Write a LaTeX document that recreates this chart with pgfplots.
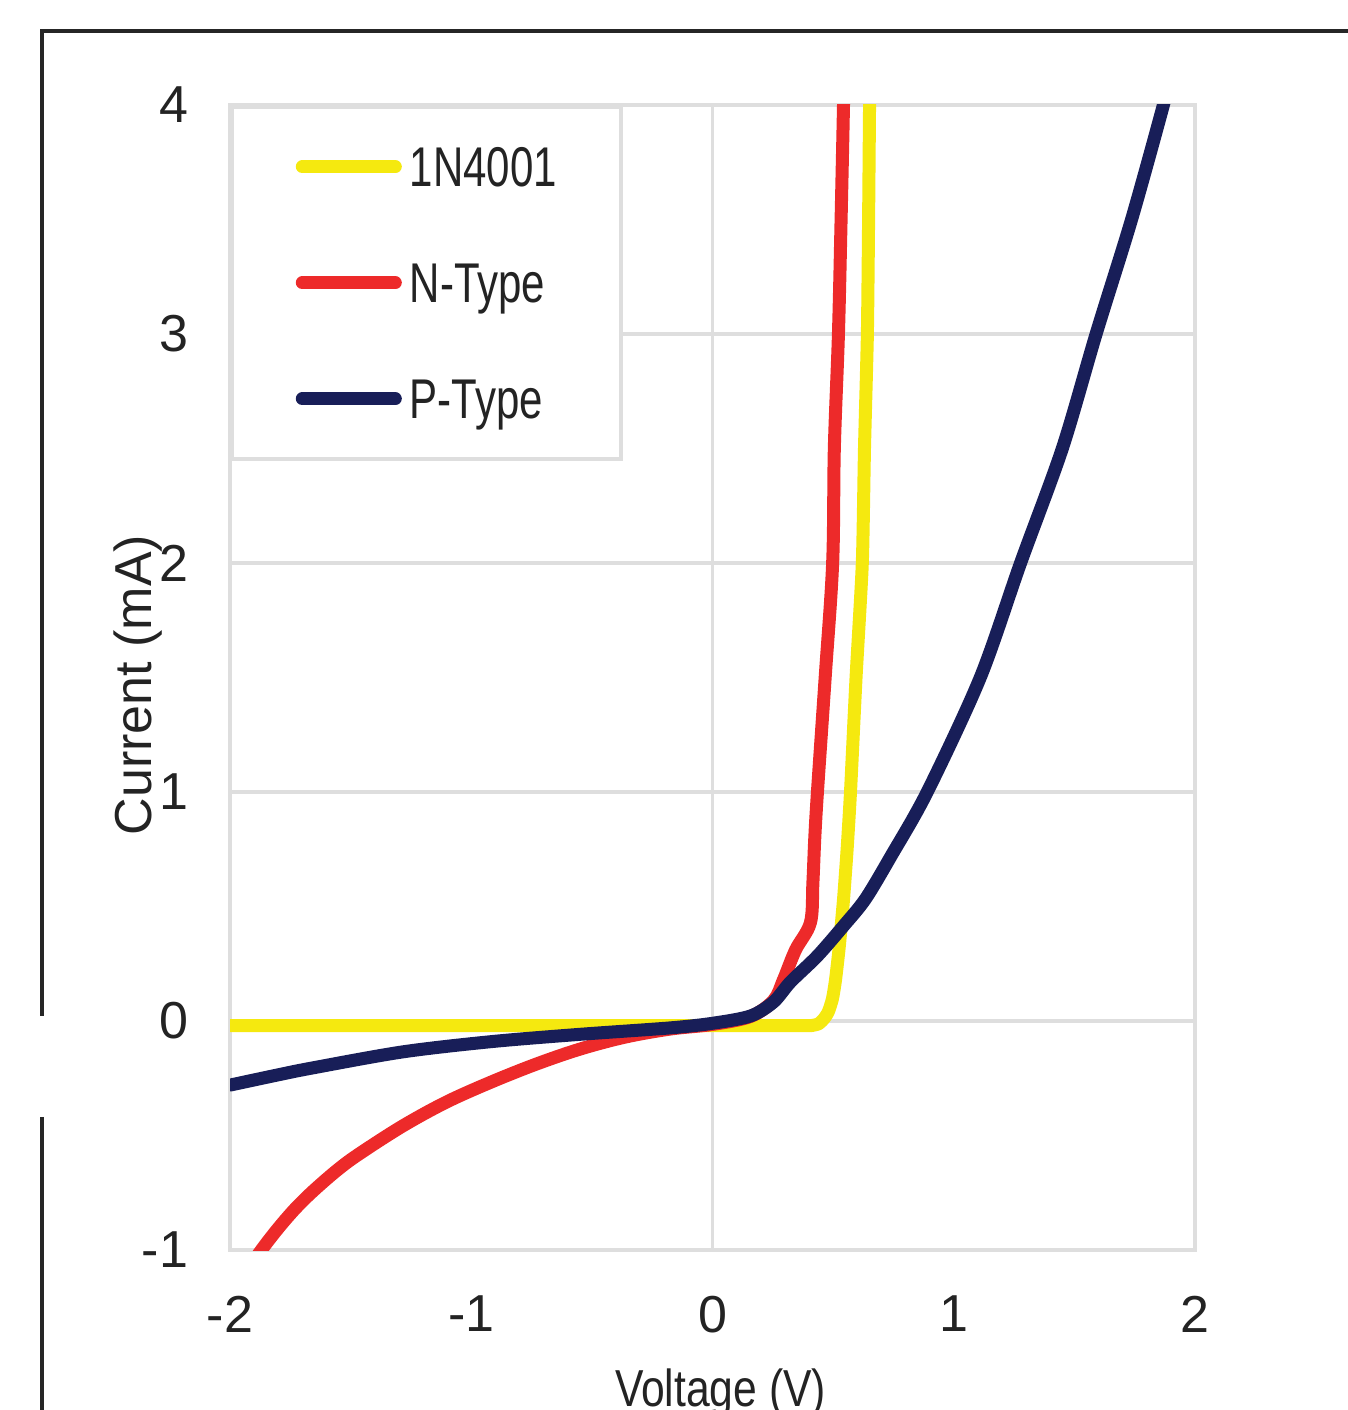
\documentclass[border=0pt]{standalone}
\usepackage{fontspec}
\setmainfont{Liberation Sans}
\newfontfamily\narrowfont{Liberation Sans}[FakeStretch=0.82]
\newfontfamily\legfont{Liberation Sans}[FakeStretch=0.75]
\usepackage{pgfplots}
\pgfplotsset{compat=1.18}
\definecolor{cyel}{RGB}{245,233,15}
\definecolor{cred}{RGB}{237,42,42}
\definecolor{cnavy}{RGB}{24,30,88}
\definecolor{gridc}{RGB}{222,222,222}
\definecolor{txt}{RGB}{35,35,35}
\begin{document}
\begin{tikzpicture}
\useasboundingbox (-57.5pt,-40pt) rectangle (279.25pt,312.5pt);
\begin{axis}[
  at={(0pt,0pt)}, anchor=south west,
  scale only axis, width=241.25pt, height=286.25pt,
  xmin=-2, xmax=2, ymin=-1, ymax=4,
  xtick={-2,-1,0,1,2}, xticklabels={-2,-1,0,1,2},
  ytick={-1,0,1,2,3,4}, yticklabels={-1,0,1,2,3,4},
  extra x ticks={0}, extra x tick labels={},
  extra x tick style={xmajorgrids=true},
  major tick length=0pt,
  xmajorgrids=false, ymajorgrids=true,
  grid style={gridc, line width=0.9pt},
  axis line style={gridc, line width=0.9pt},
  tick label style={font=\fontsize{13}{15}\selectfont, text=txt, inner sep=0pt},
  xticklabel style={anchor=north, yshift=-11.25pt},
  yticklabel style={anchor=east, xshift=-10.25pt},
  xlabel={Voltage (V)}, ylabel={Current (mA)},
  xlabel style={at={(axis description cs:0.5,0)}, anchor=north, inner sep=0pt, yshift=-29.5pt, xshift=2pt, font=\narrowfont\fontsize{13}{15}\selectfont, text=txt},
  ylabel style={at={(axis description cs:-0.0953,0.4934)}, anchor=center, inner sep=0pt, font=\fontsize{13}{15}\selectfont, text=txt},
  legend cell align=left,
  legend style={at={(0,1)}, anchor=north west, draw=gridc, line width=0.9pt, fill=white,
    inner xsep=16pt, inner ysep=10pt, row sep=19pt, column sep=2pt,
    nodes={inner sep=0pt, text height=10pt, text depth=0pt, font=\legfont\fontsize{14}{16}\selectfont, text=txt},
    column 2/.style={nodes={text width=40pt}}},
  legend image code/.code={\draw[#1, line cap=round] (0pt,0pt) -- (23.25pt,0pt);},
  every axis plot/.append style={line width=3.25pt, line join=round, line cap=round},
]
\addplot[cyel, smooth, tension=0.35] coordinates {
 (-2,-0.02) (-1,-0.02) (0,-0.02) (0.2,-0.02) (0.35,-0.02) (0.41,-0.02) (0.44,-0.012)
 (0.462,0.01) (0.48,0.04) (0.497,0.096) (0.51,0.18) (0.525,0.32) (0.543,0.53)
 (0.558,0.75) (0.572,1.0) (0.595,1.5) (0.621,2.0) (0.630,2.5) (0.642,3.0) (0.647,3.5) (0.651,4.0) (0.653,4.2)
};
\addlegendentry{1N4001}
\addplot[cred, smooth, tension=0.55] coordinates {
 (-2,-1.21) (-1.935,-1.10) (-1.87,-1.0) (-1.80,-0.905) (-1.73,-0.82) (-1.658,-0.745)
 (-1.56,-0.655) (-1.471,-0.585) (-1.285,-0.459) (-1.103,-0.354) (-0.916,-0.266) (-0.730,-0.188)
 (-0.547,-0.122) (-0.361,-0.070) (-0.174,-0.035) (0,-0.015)
 (0.158,0.02) (0.253,0.09) (0.294,0.18) (0.344,0.31) (0.406,0.43) (0.416,0.6) (0.424,0.8)
 (0.435,1.0) (0.467,1.5) (0.498,2.0) (0.505,2.5) (0.522,3.0) (0.533,3.5) (0.543,4.0) (0.546,4.2)
};
\addlegendentry{N-Type}
\addplot[cnavy, smooth, tension=0.5] coordinates {
 (-2,-0.28) (-1.8,-0.235) (-1.658,-0.205) (-1.285,-0.135) (-0.916,-0.09)
 (-0.547,-0.058) (-0.174,-0.03) (0,-0.01) (0.158,0.022) (0.253,0.083) (0.323,0.17)
 (0.435,0.284) (0.543,0.415) (0.634,0.533) (0.74,0.72) (0.89,1.0) (1.11,1.5)
 (1.277,2.0) (1.45,2.5) (1.59,3.0) (1.737,3.5) (1.869,4.0) (1.89,4.1)
};
\addlegendentry{P-Type}
\end{axis}
\draw[line width=1.1pt, black!85] (-47pt,58.5pt) -- (-47pt,304.75pt) -- (281pt,304.75pt);
\draw[line width=1.1pt, black!85] (-47pt,33.25pt) -- (-47pt,-42pt);
\end{tikzpicture}
\end{document}
